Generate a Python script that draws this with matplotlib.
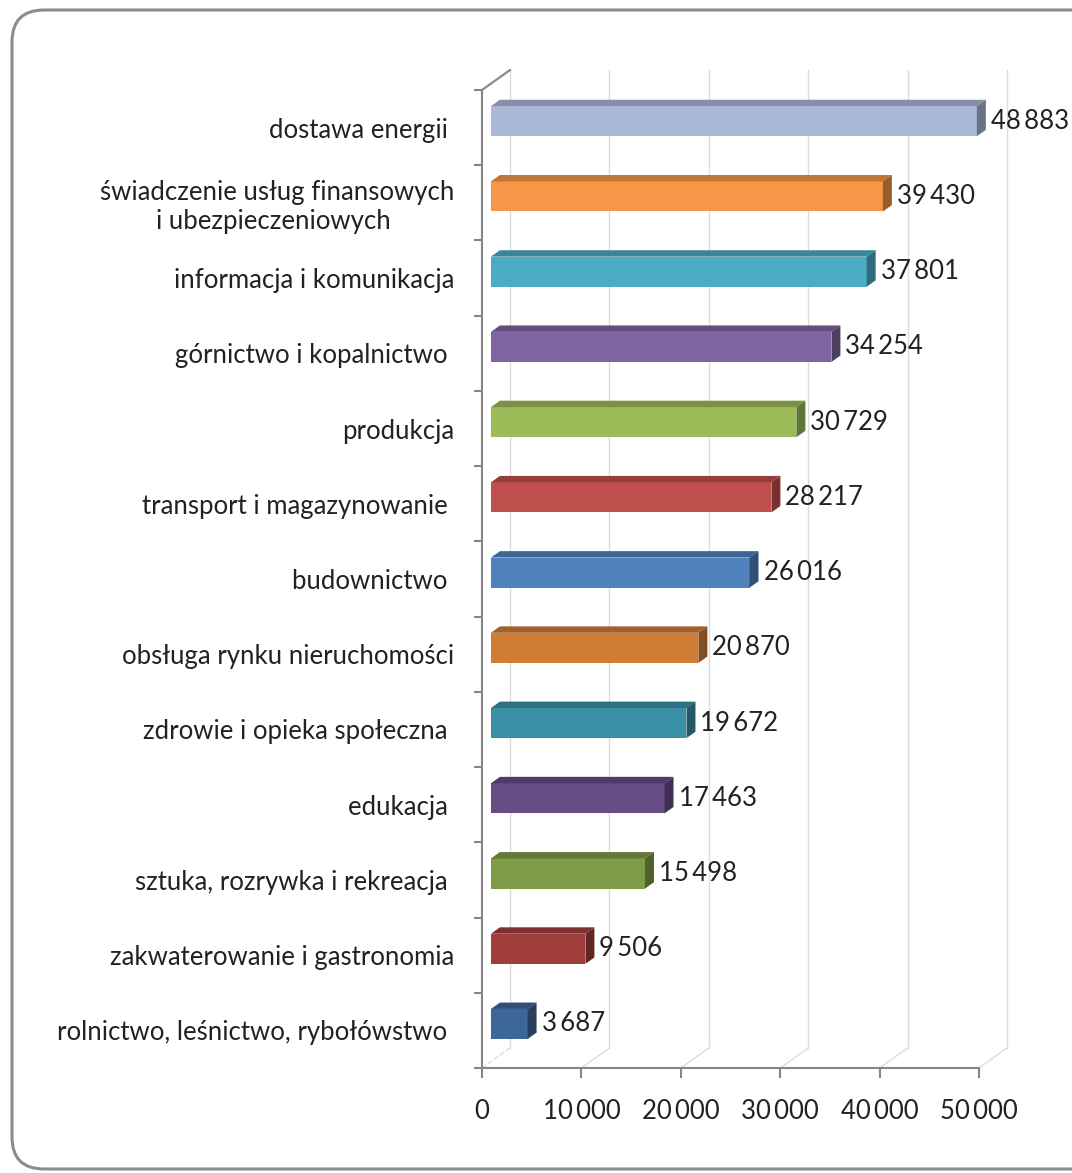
import numpy as np
import matplotlib.pyplot as plt
from matplotlib.patches import Polygon, Rectangle, FancyBboxPatch

plt.rcParams['font.family'] = ['Lato', 'DejaVu Sans']

# Dane (od dołu do góry)
kategorie = ['rolnictwo, leśnictwo, rybołówstwo ',
             'zakwaterowanie i gastronomia',
             'sztuka, rozrywka i rekreacja ',
             'edukacja ',
             'zdrowie i opieka społeczna ',
             'obsługa rynku nieruchomości',
             'budownictwo ',
             'transport i magazynowanie ',
             'produkcja',
             'górnictwo i kopalnictwo ',
             'informacja i komunikacja',
             'świadczenie usług finansowych\ni ubezpieczeniowych ',
             'dostawa energii ']
wartosci = [3687, 9506, 15498, 17463, 19672, 20870, 26016, 28217, 30729,
            34254, 37801, 39430, 48883]
kolory = ['#3D6699', '#A03E3C', '#7E9B47', '#654C84', '#388FA6', '#D07C35',
          '#4F81BD', '#C0504D', '#9BBB59', '#8064A2', '#4BACC6', '#F79646',
          '#AAB9D7']
ticks_x = [0, 10000, 20000, 30000, 40000, 50000]

FS = 18.5
W, H = 1072, 1173
fig = plt.figure(figsize=(W / 100, H / 100), dpi=100)

# tło z zaokrągloną ramką
bg = fig.add_axes([0, 0, 1, 1], zorder=-5)
bg.set_xlim(0, W)
bg.set_ylim(H, 0)
bg.axis('off')
bg.add_patch(FancyBboxPatch((12, 10), W + 60, H - 14,
                            boxstyle='round,pad=0,rounding_size=32',
                            fc='white', ec='#8c8c8c', lw=2.2))

# osie wykresu
x_lewo, x_prawo = 482, 979
y_gora, y_dol = 90, 1068
ax = fig.add_axes([x_lewo / W, 1 - y_dol / H, (x_prawo - x_lewo) / W,
                   (y_dol - y_gora) / H])
ax.patch.set_alpha(0)
ax.set_xlim(0, 50000)
ax.set_ylim(-0.5, len(kategorie) - 0.5)

px_x = 50000 / (x_prawo - x_lewo)
px_y = len(kategorie) / (y_dol - y_gora)
DX, DY = 28 * px_x, 20 * px_y  # głębokość 3D


def fmt(v):
    return f'{v:,}'.replace(',', '\u2009')


szary = '#868686'
siatka = '#dcdcdc'
ymin, ymax = ax.get_ylim()

# tylna ściana: siatka
for t in ticks_x:
    ax.plot([t + DX, t + DX], [ymin + DY, ymax + DY], color=siatka, lw=1,
            clip_on=False, zorder=0)
    ax.plot([t, t + DX], [ymin, ymin + DY], color=siatka, lw=1,
            clip_on=False, zorder=0, ls='--' if t == 0 else '-')
ax.plot([0, DX], [ymax, ymax + DY], color=szary, lw=1.5, clip_on=False)

# słupki 3D
f1, f2 = 0.32, 0.64
h = 0.4
for i, (v, c) in enumerate(zip(wartosci, kolory)):
    x0 = f1 * DX
    yc = i + f1 * DY
    yb, yt = yc - h / 2, yc + h / 2
    ddx, ddy = (f2 - f1) * DX, (f2 - f1) * DY
    rgb = np.array(plt.matplotlib.colors.to_rgb(c))
    ax.add_patch(Rectangle((x0, yb), v, h, fc=c, ec='none', zorder=3,
                           clip_on=False))
    ax.add_patch(Polygon([(x0, yt), (x0 + v, yt), (x0 + v + ddx, yt + ddy),
                          (x0 + ddx, yt + ddy)], closed=True,
                         fc=rgb * 0.78, ec='none', zorder=3, clip_on=False))
    ax.add_patch(Polygon([(x0 + v, yb), (x0 + v, yt), (x0 + v + ddx, yt + ddy),
                          (x0 + v + ddx, yb + ddy)], closed=True,
                         fc=rgb * 0.62, ec='none', zorder=3, clip_on=False))
    ax.text(x0 + v + ddx + 5 * px_x, yc, fmt(v),
            ha='left', va='center', fontsize=FS, color='#222222',
            clip_on=False)

# oś Y
ax.set_yticks(range(len(kategorie)))
ax.set_yticklabels(kategorie, fontsize=FS, color='#222222',
                   multialignment='center')
ax.set_yticks(np.arange(-0.5, len(kategorie), 1), minor=True)
ax.tick_params(axis='y', which='major', length=0, pad=20)
ax.tick_params(axis='y', which='minor', length=6, width=1.5, color=szary,
               direction='out')

# oś X
ax.set_xticks(ticks_x)
ax.set_xticklabels([fmt(t) for t in ticks_x], fontsize=FS, color='#222222')
ax.tick_params(axis='x', length=7, width=1.5, color=szary, pad=15)

for s in ['top', 'right']:
    ax.spines[s].set_visible(False)
for s in ['left', 'bottom']:
    ax.spines[s].set_color(szary)
    ax.spines[s].set_linewidth(1.5)

plt.savefig('out.png', dpi=100)
